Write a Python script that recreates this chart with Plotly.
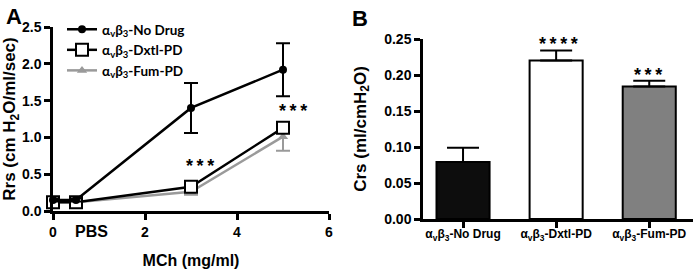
import plotly.graph_objects as go

W, H = 697, 269

# Panel A data
mch = [0, 0.5, 3, 5]
nodrug = [0.15, 0.15, 1.40, 1.92]
nodrug_err = [0.02, 0.02, 0.34, 0.36]
dxtl = [0.12, 0.12, 0.33, 1.13]
dxtl_err = [0.02, 0.02, 0.04, 0.05]
fum = [0.12, 0.12, 0.26, 1.01]
fum_err = [0.02, 0.02, 0.04, 0.19]
series_names = ["α<sub>v</sub>β<sub>3</sub>-No Drug", "α<sub>v</sub>β<sub>3</sub>-Dxtl-PD", "α<sub>v</sub>β<sub>3</sub>-Fum-PD"]
x_ticks = [0, 2, 4, 6]
y_ticks_a = [0, 0.5, 1.0, 1.5, 2.0, 2.5]

# Panel B data
groups = ["α<sub>v</sub>β<sub>3</sub>-No Drug", "α<sub>v</sub>β<sub>3</sub>-Dxtl-PD", "α<sub>v</sub>β<sub>3</sub>-Fum-PD"]
crs = [0.079, 0.220, 0.184]
crs_err = [0.020, 0.014, 0.008]
y_ticks_b = [0, 0.05, 0.10, 0.15, 0.20, 0.25]
bar_colors = ["#0d0d0d", "#ffffff", "#808080"]

FONT = "Liberation Sans, Arial, sans-serif"
fig = go.Figure()

fig.add_trace(go.Scatter(
    x=mch, y=fum, name=series_names[2], legendrank=3, mode="lines+markers",
    line=dict(color="#9a9a9a", width=2.5),
    marker=dict(symbol="triangle-up", size=9, color="#9a9a9a"),
    error_y=dict(type="data", array=fum_err, color="#9a9a9a", thickness=2, width=7),
    cliponaxis=False, xaxis="x", yaxis="y"))
fig.add_trace(go.Scatter(
    x=mch, y=dxtl, name=series_names[1], legendrank=2, mode="lines+markers",
    line=dict(color="black", width=2.5),
    marker=dict(symbol="square", size=12, color="white", line=dict(color="black", width=2)),
    error_y=dict(type="data", array=dxtl_err, color="black", thickness=2, width=7),
    cliponaxis=False, xaxis="x", yaxis="y"))
fig.add_trace(go.Scatter(
    x=mch, y=nodrug, name=series_names[0], legendrank=1, mode="lines+markers",
    line=dict(color="black", width=2.5),
    marker=dict(symbol="circle", size=8, color="black"),
    error_y=dict(type="data", array=nodrug_err, color="black", thickness=2, width=7),
    cliponaxis=False, xaxis="x", yaxis="y"))

fig.add_trace(go.Bar(
    x=[0, 1, 2], y=crs, width=0.57, showlegend=False,
    marker=dict(color=bar_colors, line=dict(color="black", width=2)),
    error_y=dict(type="data", array=crs_err, arrayminus=[0, 0, 0], symmetric=False,
                 color="black", thickness=2, width=16),
    xaxis="x2", yaxis="y2"))

def axis_common(size=14):
    return dict(showline=True, linecolor="black", linewidth=2.5, ticks="outside",
                ticklen=6, tickwidth=2.5, tickcolor="black", showgrid=False, zeroline=False,
                automargin=False,
                tickfont=dict(family=FONT, size=size, color="black", weight="bold"))

fig.update_layout(
    width=W, height=H, margin=dict(l=0, r=0, t=0, b=0, autoexpand=False),
    paper_bgcolor="white", plot_bgcolor="white",
    font=dict(family=FONT, color="black"),
    xaxis=dict(domain=[53/W, 329/W], range=[0, 6], tickvals=x_ticks, anchor="y",
               title=dict(text="<b>MCh (mg/ml)</b>", font=dict(size=16), standoff=34), **axis_common()),
    yaxis=dict(domain=[(H-211)/H, (H-27)/H], range=[0, 2.5], tickvals=y_ticks_a,
               tickformat=".1f", anchor="x",
               title=dict(text="<b>Rrs (cm H<sub>2</sub>O/ml/sec)</b>", font=dict(size=17), standoff=4), **axis_common()),
    xaxis2=dict(domain=[423/W, 693/W], range=[-0.43, 2.47], tickvals=[0, 1, 2], ticktext=groups,
                anchor="y2", ticklabelstandoff=-4, **axis_common(12)),
    yaxis2=dict(domain=[(H-219)/H, (H-39)/H], range=[0, 0.25], tickvals=y_ticks_b,
                tickformat=".2f", anchor="x2",
                title=dict(text="<b>Crs (ml/cmH<sub>2</sub>O)</b>", font=dict(size=17), standoff=14), **axis_common()),
    legend=dict(x=62/W, y=1-14/H, xanchor="left", yanchor="top", bgcolor="rgba(0,0,0,0)",
                font=dict(family="Lato, Carlito, sans-serif", size=13.5, color="black", weight="bold"),
                tracegroupgap=0, itemwidth=30),
    showlegend=True,
)

TS = "\u2009"
def stars(n):
    return "<b>" + TS.join(["*"] * n) + "</b>"

def star_ann(n, px, py):
    return dict(text=stars(n), x=px/W, y=1-py/H, xref="paper", yref="paper", xanchor="center",
                yanchor="middle", showarrow=False, font=dict(size=18))

anns = [
    dict(text="<b>A</b>", x=4/W, y=1-2/H, xref="paper", yref="paper", xanchor="left", yanchor="top",
         showarrow=False, font=dict(size=22)),
    dict(text="<b>B</b>", x=350/W, y=1-4/H, xref="paper", yref="paper", xanchor="left", yanchor="top",
         showarrow=False, font=dict(size=22)),
    dict(text="<b>PBS</b>", x=91/W, y=1-231/H, xref="paper", yref="paper", xanchor="center", yanchor="middle",
         showarrow=False, font=dict(size=16)),
    star_ann(3, 200, 166),
    star_ann(3, 293, 111),
    star_ann(4, 558, 44),
    star_ann(3, 648, 75),
]
fig.update_layout(annotations=anns)

fig.write_html("out.html", config={"displayModeBar": False},
               post_script="document.body.style.margin='0px';document.body.style.overflow='hidden';")
